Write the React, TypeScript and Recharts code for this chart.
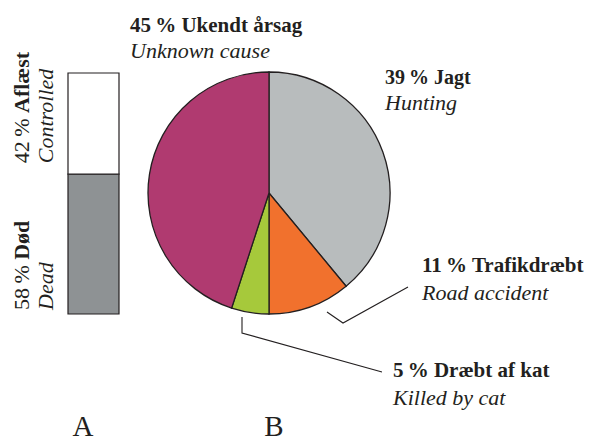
import React from "react";
import { BarChart, Bar, XAxis, YAxis, PieChart, Pie, Cell, LabelList } from "recharts";

// ---- data ----
const barCategories = ["A"];
const deadShare = [58];
const controlledShare = [42];
const barLabels = {
  dead: { pct: "58\u2009%", da: "Død", en: "Dead" },
  controlled: { pct: "42\u2009%", da: "Aflæst", en: "Controlled" },
};

const causeNamesDa = ["Jagt", "Trafikdræbt", "Dræbt af kat", "Ukendt årsag"];
const causeNamesEn = ["Hunting", "Road accident", "Killed by cat", "Unknown cause"];
const causeValues = [39, 11, 5, 45];
const causeColors = ["#b8bcbd", "#f1712d", "#a6c93b", "#b03a70"];

const panelLetters = ["A", "B"];

const FONT = "Liberation Serif";
const INK = "#231f20";

const barData = barCategories.map((c, i) => ({
  name: c,
  dead: deadShare[i],
  controlled: controlledShare[i],
}));

const pieData = causeNamesDa.map((n, i) => ({ name: n, en: causeNamesEn[i], value: causeValues[i] }));

// label layout (absolute page positions of text and leader lines)
const labelLayout = [
  { x: 385, y1: 84, y2: 110, size: 20, line: null },
  { x: 422, y1: 272, y2: 300, size: 21, line: [[327, 312], [343, 323], [408, 287]] },
  { x: 393, y1: 377, y2: 405, size: 21, line: [[242, 317], [242, 333], [382, 372]] },
  { x: 130, y1: 32, y2: 58, size: 21, line: null },
];

const renderPieLabel = (props: any) => {
  const i = props.index;
  const L = labelLayout[i];
  const d = pieData[i];
  return (
    <g key={"lbl" + i}>
      {L.line && (
        <polyline
          points={L.line.map((p) => p.join(",")).join(" ")}
          fill="none"
          stroke={INK}
          strokeWidth={1.1}
        />
      )}
      <text x={L.x} y={L.y1} fontFamily={FONT} fontSize={L.size} fontWeight="bold" fill={INK}>
        {d.value + "\u2009% " + d.name}
      </text>
      <text x={L.x} y={L.y2} fontFamily={FONT} fontSize={22} fontStyle="italic" fill={INK}>
        {d.en}
      </text>
    </g>
  );
};

const makeBarLabel = (key: "dead" | "controlled", lift: number) => (p: any) => {
  const lb = barLabels[key];
  const bx = p.x;
  const by = p.y + p.height - lift;
  const x1 = bx - 39;
  const x2 = bx - 15;
  return (
    <g>
      <text
        x={x1}
        y={by}
        transform={`rotate(-90 ${x1} ${by})`}
        fontFamily={FONT}
        fontSize={22}
        fill={INK}
        textAnchor="start"
      >
        {lb.pct + " "}
        <tspan fontWeight="bold">{lb.da}</tspan>
      </text>
      <text
        x={x2}
        y={by}
        transform={`rotate(-90 ${x2} ${by})`}
        fontFamily={FONT}
        fontSize={22}
        fontStyle="italic"
        fill={INK}
        textAnchor="start"
      >
        {lb.en}
      </text>
    </g>
  );
};

export default function App() {
  return (
    <div style={{ position: "absolute", left: 0, top: 0, width: 591, height: 441, background: "#fff", overflow: "hidden", fontFamily: FONT }}>
      <div style={{ position: "absolute", left: 0, top: 0 }}>
        <BarChart
          width={200}
          height={441}
          data={barData}
          margin={{ top: 73, bottom: 127, left: 68, right: 81 }}
          barCategoryGap={0}
        >
          <XAxis dataKey="name" hide />
          <YAxis hide domain={[0, 100]} />
          <Bar dataKey="dead" stackId="s" fill="#8e9294" stroke={INK} strokeWidth={1.2} isAnimationActive={false}>
            <LabelList dataKey="dead" content={makeBarLabel("dead", 4)} />
          </Bar>
          <Bar dataKey="controlled" stackId="s" fill="#ffffff" stroke={INK} strokeWidth={1.2} isAnimationActive={false}>
            <LabelList dataKey="controlled" content={makeBarLabel("controlled", 11)} />
          </Bar>
        </BarChart>
      </div>
      <div style={{ position: "absolute", left: 0, top: 0 }}>
        <PieChart width={591} height={441} margin={{ top: 0, right: 0, bottom: 0, left: 0 }}>
          <Pie
            data={pieData}
            dataKey="value"
            nameKey="name"
            cx={269}
            cy={193}
            outerRadius={121}
            innerRadius={0}
            startAngle={90}
            endAngle={-270}
            stroke={INK}
            strokeWidth={1.3}
            label={renderPieLabel}
            labelLine={false}
            isAnimationActive={false}
          >
            {pieData.map((d, i) => (
              <Cell key={d.name} fill={causeColors[i]} />
            ))}
          </Pie>
        </PieChart>
      </div>
      <svg width={591} height={441} style={{ position: "absolute", left: 0, top: 0, pointerEvents: "none" }}>
        <text x={83} y={436} textAnchor="middle" fontFamily={FONT} fontSize={29} fill={INK}>
          {panelLetters[0]}
        </text>
        <text x={274} y={436} textAnchor="middle" fontFamily={FONT} fontSize={29} fill={INK}>
          {panelLetters[1]}
        </text>
      </svg>
    </div>
  );
}
